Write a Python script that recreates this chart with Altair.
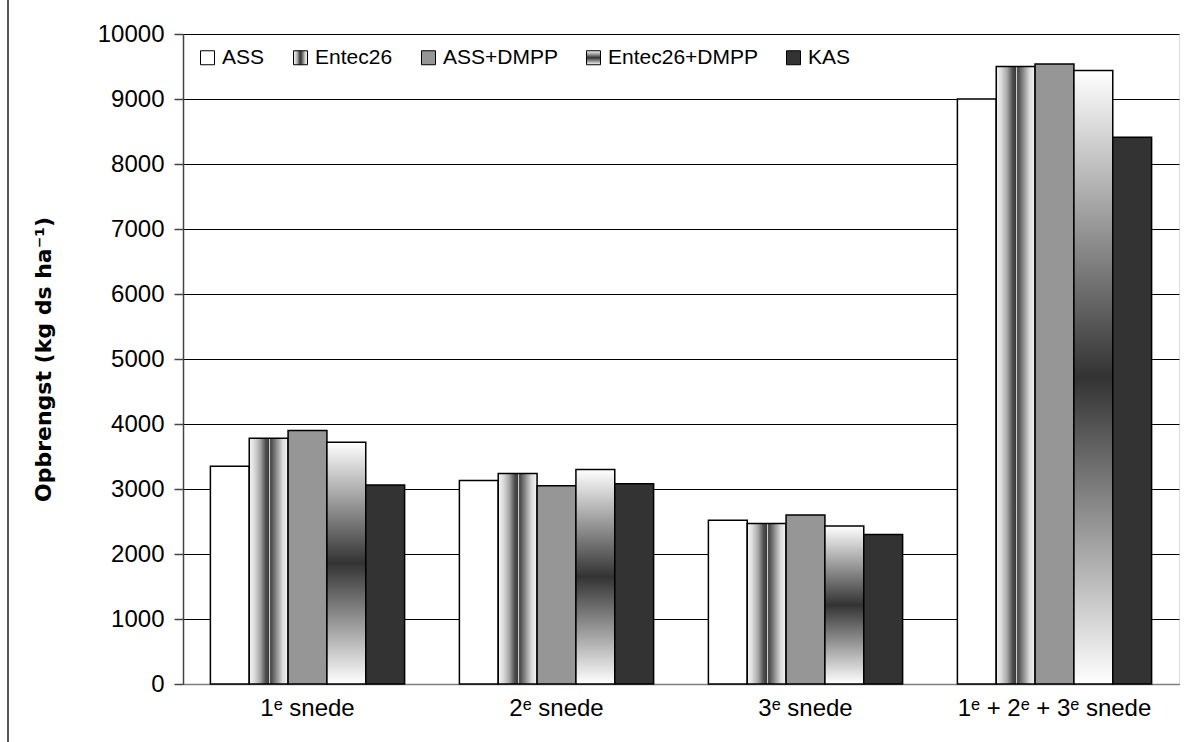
import altair as alt
import pandas as pd

categories = ["1ᵉ snede", "2ᵉ snede", "3ᵉ snede", "1ᵉ + 2ᵉ + 3ᵉ snede"]
series = ["ASS", "Entec26", "ASS+DMPP", "Entec26+DMPP", "KAS"]
ass = [3350, 3130, 2520, 9000]
entec26 = [3780, 3240, 2470, 9500]
ass_dmpp = [3900, 3050, 2600, 9540]
entec26_dmpp = [3720, 3300, 2430, 9440]
kas = [3060, 3080, 2300, 8410]

values = [ass, entec26, ass_dmpp, entec26_dmpp, kas]
rows = []
for s, vals in zip(series, values):
    for c, v in zip(categories, vals):
        rows.append({"snede": c, "meststof": s, "opbrengst": v})
df = pd.DataFrame(rows)

entec_grad = ("{gradient: 'linear', x1: 0, y1: 0, x2: 1, y2: 0, stops: ["
              "{offset: 0, color: '#f4f4f4'}, {offset: 0.12, color: '#dedede'}, "
              "{offset: 0.28, color: '#a8a8a8'}, {offset: 0.42, color: '#505050'}, "
              "{offset: 0.5, color: '#3a3a3a'}, {offset: 0.52, color: '#d4d4d4'}, "
              "{offset: 0.55, color: '#444444'}, {offset: 0.7, color: '#8c8c8c'}, "
              "{offset: 0.86, color: '#dadada'}, {offset: 1, color: '#f6f6f6'}]}")
entec_dmpp_grad = ("{gradient: 'linear', x1: 0, y1: 0, x2: 0, y2: 1, stops: ["
                   "{offset: 0, color: '#ffffff'}, {offset: 0.5, color: '#333333'}, "
                   "{offset: 1, color: '#ffffff'}]}")

color_range = ["#ffffff", alt.ExprRef(entec_grad), "#969696",
               alt.ExprRef(entec_dmpp_grad), "#333333"]

FONT = "Liberation Sans"

bars = alt.Chart(df).mark_bar(stroke="black", strokeWidth=1.5, opacity=1).encode(
    x=alt.X("snede:N", sort=categories,
            scale=alt.Scale(paddingInner=0.22, paddingOuter=0.11),
            axis=alt.Axis(title=None, labelAngle=0, labelFontSize=24, labelFont=FONT,
                          labelColor="black", ticks=False, labelPadding=12, labelLimit=0,
                          domainColor="#808080", domainWidth=1.5)),
    xOffset=alt.XOffset("meststof:N", sort=series,
                        scale=alt.Scale(paddingInner=0, paddingOuter=0)),
    y=alt.Y("opbrengst:Q", scale=alt.Scale(domain=[0, 10000], nice=False),
            axis=alt.Axis(title="Opbrengst (kg ds ha⁻¹)", values=list(range(0, 10001, 1000)),
                          format="d",
                          labelFontSize=24, labelFont=FONT, labelColor="black",
                          titleFont="DejaVu Sans", titleFontSize=22, titleFontWeight="bold",
                          titleColor="black", titlePadding=42,
                          tickSize=9, tickColor="#444444", tickWidth=1.5,
                          labelPadding=10, domainColor="#444444", domainWidth=1.5,
                          gridColor="black", gridWidth=1, grid=True)),
    color=alt.Color("meststof:N", sort=series,
                    scale=alt.Scale(domain=series, range=color_range),
                    legend=alt.Legend(title=None, orient="none", direction="horizontal",
                                      legendX=14, legendY=13, symbolType="square",
                                      symbolSize=196, symbolStrokeColor="black",
                                      symbolStrokeWidth=1, symbolOpacity=1,
                                      labelFontSize=21, labelFont=FONT, labelColor="black",
                                      columnPadding=25, labelOffset=4)),
)

frame = alt.Chart(df).mark_rule(color="#555555", strokeWidth=1.5).encode(
    x=alt.value(-175), y=alt.value(-34), y2=alt.value(708)
)

chart = alt.layer(bars, frame).properties(
    width=996, height=650,
    autosize=alt.AutoSizeParams(type="none"),
    padding={"left": 183, "top": 34, "right": 17, "bottom": 58},
).configure_view(stroke="#888888", strokeWidth=1.5).configure(background="white")

chart.save("out.html", embed_options={"renderer": "svg", "actions": False})
